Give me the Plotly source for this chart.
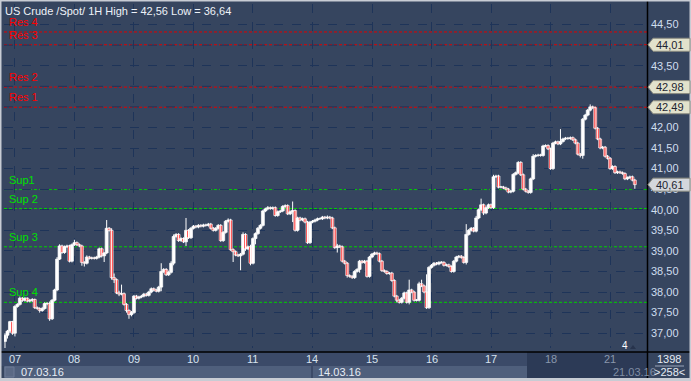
import plotly.graph_objects as go

# ---------------- data ----------------
title_text = "US Crude /Spot/ 1H High = 42,56 Low = 36,64"
first_open = 36.80
closes = [
    36.95, 37.05, 37.28, 37.00,
    37.65, 37.70, 37.85, 37.80, 37.85, 37.78, 37.80, 37.82, 37.62, 37.60, 37.55, 37.60,
    37.72, 37.72, 37.35, 37.80, 38.05, 38.80, 39.12, 38.96, 39.10, 39.12, 38.75, 39.15,
    39.20, 39.15, 39.12, 38.72, 38.70, 38.85, 38.82, 38.83, 38.82, 38.85, 39.05, 38.88,
    38.95, 39.55, 39.50, 38.35, 38.30, 37.98, 37.95, 37.96, 37.70, 37.55, 37.45, 37.50,
    37.90, 37.85, 37.88, 37.90, 37.95, 37.92, 38.00, 38.08, 38.05, 38.02, 38.12, 38.50,
    38.55, 38.42, 38.48, 38.70, 39.35, 39.40, 39.25, 39.30, 39.22, 39.50, 39.32, 39.55,
    39.60, 39.58, 39.62, 39.60, 39.63, 39.62, 39.65, 39.55, 39.50, 39.55, 39.62, 39.25,
    39.45, 39.72, 39.75, 39.03, 38.98, 38.90, 38.88, 38.92, 39.40, 39.05, 39.10, 38.70,
    39.30, 39.42, 39.55, 39.62, 39.97, 40.02, 40.05, 40.03, 40.05, 39.86, 39.95, 39.97,
    40.08, 40.10, 39.90, 39.95, 39.98, 39.50, 39.80, 39.75, 39.78, 39.70, 39.20, 39.70,
    39.72, 39.75, 39.78, 39.78, 39.82, 39.80, 39.82, 39.80, 39.56, 39.08, 39.12, 39.10,
    38.75, 38.70, 38.40, 38.38, 38.35, 38.50, 38.55, 38.75, 38.72, 38.75, 38.38, 38.85,
    38.92, 38.95, 38.93, 38.75, 38.52, 38.50, 38.45, 38.46, 38.28, 37.90, 37.80, 37.75,
    37.85, 37.98, 37.75, 38.05, 38.00, 37.80, 37.80, 38.20, 38.15, 38.00, 37.62, 38.60,
    38.65, 38.70, 38.68, 38.72, 38.72, 38.65, 38.66, 38.62, 38.50, 38.75, 38.85, 38.87,
    38.84, 38.72, 39.40, 39.50, 39.55, 39.48, 39.80, 40.00, 40.12, 39.92, 40.05, 40.12,
    40.05, 40.80, 40.82, 40.55, 40.55, 40.53, 40.50, 40.43, 40.45, 40.86, 40.90, 41.15,
    40.85, 40.50, 40.45, 40.42, 40.75, 41.30, 41.32, 41.33, 41.32, 41.55, 41.56, 41.48,
    41.00, 41.62, 41.65, 41.60, 41.66, 41.72, 41.74, 41.73, 41.75, 41.70, 41.62, 41.35,
    41.32, 42.20, 42.30, 42.42, 42.50, 42.48, 41.98, 41.72, 41.50, 41.52, 41.30, 41.25,
    41.00, 41.05, 40.90, 40.92, 40.90, 40.88, 40.75, 40.78, 40.80, 40.72, 40.61,
]
# wick lengths above / below the candle body, in cents
upper_wick_c = [
    5, 3, 2, 2,
    3, 3, 4, 3, 3, 2, 3, 3, 2, 3, 3, 4, 3, 3, 5, 3, 3, 5, 4, 3, 3, 3, 3, 3,
    7, 3, 3, 3, 3, 4, 3, 3, 3, 3, 3, 3, 2, 20, 3, 5, 10, 3, 5, 22, 3, 3, 3, 4,
    3, 3, 3, 3, 3, 3, 3, 3, 3, 3, 3, 20, 3, 3, 4, 5, 5, 3, 3, 3, 3, 30, 3, 3,
    3, 3, 3, 3, 3, 3, 3, 3, 3, 3, 3, 3, 3, 3, 4, 3, 3, 3, 3, 3, 5, 3, 3, 5,
    3, 3, 3, 3, 3, 3, 4, 3, 3, 3, 3, 3, 3, 3, 3, 3, 22, 3, 3, 3, 3, 3, 3, 3,
    3, 3, 3, 3, 3, 3, 4, 3, 3, 3, 5, 3, 3, 3, 3, 3, 3, 3, 3, 3, 3, 3, 3, 3,
    3, 3, 3, 3, 3, 3, 3, 3, 3, 3, 3, 3, 3, 3, 3, 25, 3, 3, 3, 5, 10, 3, 43, 3,
    3, 3, 3, 3, 3, 3, 3, 3, 3, 3, 3, 3, 3, 3, 25, 3, 3, 3, 5, 3, 15, 3, 3, 3,
    3, 5, 3, 3, 3, 3, 3, 3, 3, 3, 3, 3, 3, 3, 3, 3, 3, 5, 3, 3, 3, 3, 3, 3,
    3, 3, 3, 3, 30, 3, 3, 3, 3, 3, 3, 3, 3, 3, 3, 3, 6, 3, 3, 3, 3, 3, 3, 3,
    3, 3, 3, 3, 3, 3, 3, 3, 3, 3, 3,
]
lower_wick_c = [
    16, 8, 5, 4,
    8, 3, 3, 4, 3, 3, 3, 4, 3, 3, 5, 3, 3, 4, 5, 3, 3, 3, 2, 3, 3, 3, 3, 3,
    3, 3, 3, 8, 8, 3, 3, 3, 3, 3, 3, 4, 15, 3, 3, 5, 8, 3, 5, 3, 3, 5, 10, 4,
    3, 3, 3, 3, 3, 3, 3, 3, 3, 3, 3, 10, 4, 3, 3, 3, 5, 3, 3, 3, 3, 10, 3, 3,
    3, 3, 3, 3, 3, 3, 3, 3, 3, 3, 3, 3, 3, 3, 3, 3, 25, 3, 3, 35, 3, 5, 3, 5,
    3, 14, 3, 3, 3, 3, 3, 3, 3, 3, 3, 3, 3, 3, 3, 3, 25, 3, 3, 3, 3, 3, 3, 3,
    3, 3, 3, 3, 3, 3, 3, 3, 3, 3, 12, 3, 3, 3, 5, 3, 3, 3, 3, 8, 3, 3, 3, 3,
    3, 3, 3, 3, 3, 3, 3, 3, 3, 3, 5, 3, 3, 3, 3, 5, 3, 3, 3, 3, 3, 3, 3, 3,
    3, 3, 3, 3, 3, 3, 3, 3, 3, 3, 3, 3, 3, 3, 5, 3, 3, 3, 3, 3, 3, 5, 3, 3,
    3, 3, 3, 3, 3, 3, 3, 3, 3, 3, 3, 3, 3, 3, 3, 3, 3, 3, 3, 3, 3, 3, 3, 3,
    3, 3, 3, 3, 3, 3, 3, 3, 3, 3, 3, 3, 5, 8, 3, 3, 3, 3, 3, 3, 3, 3, 3, 3,
    3, 3, 3, 3, 3, 3, 3, 3, 3, 3, 10,
]
day_labels = ["07", "08", "09", "10", "11", "14", "15", "16", "17", "18", "21"]
day_start_index = [4, 28, 52, 76, 100, 124, 148, 172, 196, 220, 244]
res_names = ["Res 4", "Res 3", "Res 2", "Res 1"]
res_levels = [44.32, 44.01, 42.98, 42.49]
sup_names = ["Sup1", "Sup 2", "Sup 3", "Sup 4"]
sup_levels = [40.49, 40.03, 39.10, 37.75]
tag_levels = [44.01, 42.98, 42.49]
last_price = 40.61
# price-axis labels (44,00 / 43,00 / 42,50 sit under the level tags and are not shown)
y_ticks = [37.0, 37.5, 38.0, 38.5, 39.0, 39.5, 40.0, 40.5, 41.0, 41.5, 42.0, 43.5, 44.5]
date_labels = ["07.03.16", "14.03.16", "21.03.16"]
bars_total = "1398"
bars_visible = ">258<"
wave_label = "4"

# ---------------- derived OHLC ----------------
n = len(closes)
opens = [first_open] + closes[:-1]
highs = [max(o, c) + u / 100 for o, c, u in zip(opens, closes, upper_wick_c)]
lows = [min(o, c) - d / 100 for o, c, d in zip(opens, closes, lower_wick_c)]
xs = list(range(n))

# ---------------- geometry ----------------
W, H = 691, 381
ML, MR, MT, MB = 4, 44, 4, 33
PW, PH = W - ML - MR, H - MT - MB
def px(xp):
    return (xp - ML) / PW
def py(yp):
    return (H - MB - yp) / PH

BG = "#36455f"
GRID = "#1e3459"
FONT = "Liberation Sans, Arial"

fig = go.Figure()

# wicks
wx, wy = [], []
for i in xs:
    wx += [i, i, None]
    wy += [lows[i], highs[i], None]
fig.add_trace(go.Scatter(x=wx, y=wy, mode="lines", line=dict(color="#ffffff", width=1),
                         hoverinfo="skip", showlegend=False))
# bodies
body_base = [min(o, c) for o, c in zip(opens, closes)]
body_len = [max(abs(c - o), 0.008) for o, c in zip(opens, closes)]
body_col = ["#ffffff" if c >= o else "#ff0000" for o, c in zip(opens, closes)]
fig.add_trace(go.Bar(x=xs, y=body_len, base=body_base, width=1.2,
                     marker=dict(color=body_col, line=dict(color="#ffffff", width=0.7)),
                     hoverinfo="skip", showlegend=False))

shapes = []
annotations = []

# resistance / support lines + labels
for name, lvl in zip(res_names, res_levels):
    shapes.append(dict(type="line", xref="paper", yref="y", x0=0, x1=1, y0=lvl, y1=lvl,
                       line=dict(color="#e00000", width=1, dash="3px,2px"), layer="below"))
    annotations.append(dict(text=name, xref="paper", yref="y", x=px(7), y=lvl, xanchor="left",
                            yanchor="bottom", yshift=2, showarrow=False,
                            font=dict(family=FONT, size=11, color="#ff0000")))
for name, lvl in zip(sup_names, sup_levels):
    shapes.append(dict(type="line", xref="paper", yref="y", x0=0, x1=1, y0=lvl, y1=lvl,
                       line=dict(color="#00d000", width=1, dash="3px,2px"), layer="below"))
    annotations.append(dict(text=name, xref="paper", yref="y", x=px(7), y=lvl, xanchor="left",
                            yanchor="bottom", yshift=2, showarrow=False,
                            font=dict(family=FONT, size=11, color="#00e000")))
# horizontal grid lines hidden under the level tags
for lvl in [42.5, 43.0, 44.0]:
    shapes.append(dict(type="line", xref="paper", yref="y", x0=0, x1=1, y0=lvl, y1=lvl,
                       line=dict(color=GRID, width=1, dash="dash"), layer="below"))

# title
annotations.append(dict(text=title_text, xref="paper", yref="paper", x=px(3), y=py(3),
                        xanchor="left", yanchor="top", showarrow=False,
                        font=dict(family=FONT, size=11, color="#eef2f8")))

# bottom area backgrounds
shapes.append(dict(type="rect", xref="paper", yref="paper", x0=px(0), x1=px(647), y0=py(366), y1=py(352),
                   fillcolor="#3b4a68", line=dict(width=0), layer="below"))
shapes.append(dict(type="rect", xref="paper", yref="paper", x0=px(4), x1=px(527), y0=py(378), y1=py(366),
                   fillcolor="#4f5f7c", line=dict(width=0), layer="below"))
shapes.append(dict(type="rect", xref="paper", yref="paper", x0=px(527), x1=px(647), y0=py(378), y1=py(352),
                   fillcolor="#2c3a56", line=dict(width=0), layer="below"))
shapes.append(dict(type="rect", xref="paper", yref="paper", x0=px(5), x1=px(14), y0=py(377), y1=py(367),
                   fillcolor="#5a6985", line=dict(color="#6d7b95", width=1), layer="below"))
shapes.append(dict(type="line", xref="paper", yref="paper", x0=px(312), x1=px(312), y0=py(378), y1=py(366),
                   line=dict(color="#2a3752", width=1)))
# separators
shapes.append(dict(type="line", xref="paper", yref="paper", x0=px(0), x1=px(691), y0=py(352), y1=py(352),
                   line=dict(color="#000000", width=1.5)))
shapes.append(dict(type="line", xref="paper", yref="paper", x0=px(647.5), x1=px(647.5), y0=py(0), y1=py(378),
                   line=dict(color="#000000", width=1.5)))
# outer frame
shapes.append(dict(type="rect", xref="paper", yref="paper", x0=px(0.5), x1=px(690.5), y0=py(380.5), y1=py(0.5),
                   line=dict(color="#c8ccd4", width=2), fillcolor="rgba(0,0,0,0)"))
shapes.append(dict(type="line", xref="paper", yref="paper", x0=px(0), x1=px(691), y0=py(379.5), y1=py(379.5),
                   line=dict(color="#c8ccd4", width=3)))

# day labels
for lab, idx in zip(day_labels, day_start_index):
    col = "#8a97ad" if idx >= 220 else "#d8e2ef"
    annotations.append(dict(text=lab, xref="x", yref="paper", x=idx, y=py(359), xanchor="center",
                            yanchor="middle", showarrow=False,
                            font=dict(family=FONT, size=11, color=col)))
# date labels
for lab, xx, col in zip(date_labels, [19, 316, 611], ["#e6ecf4", "#e6ecf4", "#7f8ca3"]):
    annotations.append(dict(text=lab, xref="paper", yref="paper", x=px(xx), y=py(372), xanchor="left",
                            yanchor="middle", showarrow=False,
                            font=dict(family=FONT, size=11, color=col)))
# bottom-right counters
annotations.append(dict(text=bars_total, xref="paper", yref="paper", x=px(669), y=py(359), xanchor="center",
                        yanchor="middle", showarrow=False,
                        font=dict(family=FONT, size=11, color="#e6ecf4")))
annotations.append(dict(text=bars_visible, xref="paper", yref="paper", x=px(669), y=py(372), xanchor="center",
                        yanchor="middle", showarrow=False,
                        font=dict(family=FONT, size=11, color="#e6ecf4")))
shapes.append(dict(type="line", xref="paper", yref="paper", x0=px(655), x1=px(684), y0=py(366), y1=py(366),
                   line=dict(color="#9aa6ba", width=1)))
# wave label
annotations.append(dict(text=wave_label, xref="paper", yref="paper", x=px(625), y=py(345), xanchor="center",
                        yanchor="middle", showarrow=False,
                        font=dict(family=FONT, size=10, color="#ffffff")))
shapes.append(dict(type="path", xref="paper", yref="paper",
                   path=f"M {px(630)},{py(349)} L {px(636)},{py(349)} L {px(633)},{py(345)} Z",
                   fillcolor="#27334c", line=dict(width=0)))

# price tags
tag_h = 6.5 / (PH / (45.0 - 36.64))
def add_tag(lvl, fill, textcol):
    shapes.append(dict(type="path", xref="paper", yref="y",
                       path=f"M {px(648)},{lvl} L {px(653)},{lvl + tag_h} L {px(690)},{lvl + tag_h} "
                            f"L {px(690)},{lvl - tag_h} L {px(653)},{lvl - tag_h} Z",
                       fillcolor=fill, line=dict(color="#8c8c80", width=1), layer="above"))
    annotations.append(dict(text=f"{lvl:.2f}".replace(".", ","), xref="paper", yref="y", x=px(654), y=lvl,
                            xanchor="left", yanchor="middle", showarrow=False,
                            font=dict(family=FONT, size=11, color=textcol)))
for lvl in tag_levels:
    add_tag(lvl, "#e2e2cc", "#1c2430")
add_tag(last_price, "#d3d7dc", "#1c2430")

fig.update_layout(
    width=W, height=H,
    margin=dict(l=ML, r=MR, t=MT, b=MB, autoexpand=False),
    paper_bgcolor=BG, plot_bgcolor=BG,
    separators=",.",
    showlegend=False, barmode="overlay",
    shapes=shapes, annotations=annotations,
    xaxis=dict(range=[-0.4, 258.9], tickvals=day_start_index, showticklabels=False,
               showgrid=True, gridcolor=GRID, griddash="dash", gridwidth=1, automargin=False,
               zeroline=False, showline=False, fixedrange=True),
    yaxis=dict(range=[36.64, 45.0], side="right", tickvals=y_ticks, tickformat=".2f",
               showgrid=True, gridcolor=GRID, griddash="dash", gridwidth=1, automargin=False,
               zeroline=False, showline=False, ticks="", ticklabelstandoff=3,
               tickfont=dict(family=FONT, size=11, color="#d0deef"),
               fixedrange=True),
)

fig.write_html("out.html", config={"displayModeBar": False},
               post_script="document.body.style.margin='0';document.body.style.padding='0';")
